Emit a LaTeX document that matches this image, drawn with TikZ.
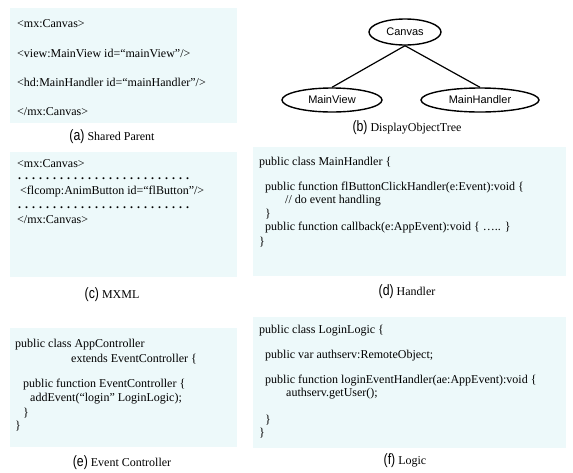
\documentclass[tikz,border=0pt]{standalone}
\usepackage{fontspec}
\setmainfont{Liberation Serif}
\newfontfamily\nodefont{Liberation Sans}
\usetikzlibrary{shapes.geometric}
\definecolor{panelfill}{RGB}{237,249,250}
\tikzset{
  panel/.style={fill=panelfill, draw=none},
  codeline/.style={anchor=west, inner sep=0pt, font=\fontsize{12}{14}\selectfont},
  dotline/.style={anchor=base west, inner sep=0pt, font=\bfseries\fontsize{12}{14}\selectfont},
  caption/.style={anchor=center, inner sep=0pt, font=\fontsize{12}{14}\selectfont},
  treenode/.style={ellipse, draw, line width=1.4pt, inner sep=0pt,
    font=\nodefont\fontsize{11}{13}\selectfont},
  treeedge/.style={line width=1.2pt}
}
\newcommand{\sublabel}[1]{{\nodefont\fontsize{15}{16}\selectfont\scalebox{0.82}[1]{(#1)}}}
\begin{document}
\begin{tikzpicture}[x=1pt,y=-1pt]
  \useasboundingbox[fill=white] (0,0) rectangle (573,472);

  % (a) shared parent
  \fill[panel] (10,8) rectangle (237,123);
  \node[codeline] (a1) at (17,24) {<mx:Canvas>};
  \node[codeline] (a2) at (17,53) {<view:MainView id=“mainView”/>};
  \node[codeline] (a3) at (17,82) {<hd:MainHandler id=“mainHandler”/>};
  \node[codeline] (a4) at (17,112) {</mx:Canvas>};
  \node[caption] (capa) at (112,137) {\sublabel{a} Shared Parent};

  % (b) display object tree
  \node[treenode, minimum width=72pt, minimum height=26pt] (canvas) at (405,32) {Canvas};
  \node[treenode, minimum width=100pt, minimum height=24pt] (mainview) at (332,100) {MainView};
  \node[treenode, minimum width=118pt, minimum height=24pt] (mainhandler) at (480,100) {MainHandler};
  \draw[treeedge] (canvas.south) -- (mainview.north);
  \draw[treeedge] (canvas.south) -- (mainhandler.north);
  \node[caption] (capb) at (407,128) {\sublabel{b} DisplayObjectTree};

  % (c) MXML
  \fill[panel] (10,152) rectangle (237,277);
  \node[codeline] (c1) at (17,164) {<mx:Canvas>};
  \node[dotline] (c2) at (18,179) {. . . . . . . . . . . . . . . . . . . . . . . . .};
  \node[codeline] (c3) at (20,192) {<flcomp:AnimButton id=“flButton”/>};
  \node[dotline] (c4) at (18,208) {. . . . . . . . . . . . . . . . . . . . . . . . .};
  \node[codeline] (c5) at (17,220) {</mx:Canvas>};
  \node[caption] (capc) at (112,295) {\sublabel{c} MXML};

  % (d) handler
  \fill[panel] (253,147) rectangle (566,276);
  \node[codeline] (d1) at (259,163) {public class MainHandler \{};
  \node[codeline] (d2) at (265,188) {public function flButtonClickHandler(e:Event):void \{};
  \node[codeline] (d3) at (285,201) {// do event handling};
  \node[codeline] (d4) at (265,214) {\}};
  \node[codeline] (d5) at (265,228) {public function callback(e:AppEvent):void \{ ….. \}};
  \node[codeline] (d6) at (259,242) {\}};
  \node[caption] (capd) at (407,292) {\sublabel{d} Handler};

  % (e) event controller
  \fill[panel] (10,328) rectangle (237,447);
  \node[codeline] (e1) at (15,345) {public class AppController};
  \node[codeline] (e2) at (71,359) {extends EventController \{};
  \node[codeline] (e3) at (23,385) {public function EventController \{};
  \node[codeline] (e4) at (30,399) {addEvent(“login” LoginLogic);};
  \node[codeline] (e5) at (23,413) {\}};
  \node[codeline] (e6) at (15,426) {\}};
  \node[caption] (cape) at (122,463) {\sublabel{e} Event Controller};

  % (f) logic
  \fill[panel] (253,317) rectangle (566,448);
  \node[codeline] (f1) at (259,331) {public class LoginLogic \{};
  \node[codeline] (f2) at (265,356) {public var authserv:RemoteObject;};
  \node[codeline] (f3) at (265,381) {public function loginEventHandler(ae:AppEvent):void \{};
  \node[codeline] (f4) at (286,394) {authserv.getUser();};
  \node[codeline] (f5) at (265,420) {\}};
  \node[codeline] (f6) at (259,433) {\}};
  \node[caption] (capf) at (405,461) {\sublabel{f} Logic};
\end{tikzpicture}
\end{document}
